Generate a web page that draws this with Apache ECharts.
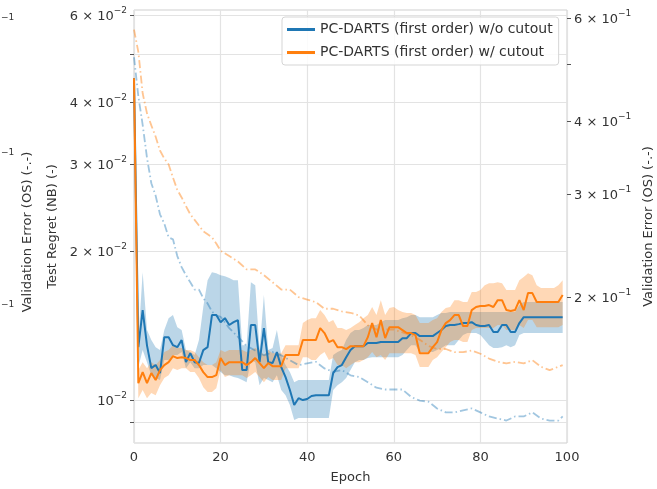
<!DOCTYPE html>
<html>
<head>
<meta charset="utf-8">
<script src="https://cdn.jsdelivr.net/npm/echarts@6/dist/echarts.min.js"></script>
<style>
  html, body { margin: 0; padding: 0; background: #fff; }
  #chart { width: 657px; height: 489px; }
</style>
</head>
<body>
<div id="chart"></div>
<script>
// test regret (NB), one value per epoch 0..99
var regretNoCutout = [
    0.0447, 0.01279, 0.0152, 0.0129, 0.0116, 0.01177, 0.01134, 0.0134, 0.0134, 0.01291,
    0.01279, 0.01322, 0.01193, 0.01244, 0.01193, 0.01188, 0.01262, 0.01279, 0.01485, 0.01485,
    0.01437, 0.01464, 0.01418, 0.01437, 0.01451, 0.0115, 0.0115, 0.01418, 0.01418, 0.01193,
    0.01398, 0.01193, 0.01188, 0.0125, 0.01166, 0.01113, 0.01048, 0.00977, 0.01009, 0.01,
    0.01005, 0.01019, 0.01023, 0.01023, 0.01023, 0.01023, 0.01134, 0.01166, 0.01177, 0.01221,
    0.01262, 0.01285, 0.01285, 0.01285, 0.01304, 0.01304, 0.01304, 0.0131, 0.0131, 0.0131,
    0.0131, 0.0131, 0.01334, 0.01334, 0.01366, 0.01366, 0.01347, 0.01347, 0.01347, 0.01347,
    0.01366, 0.01385, 0.01411, 0.01418, 0.01418, 0.01424, 0.01431, 0.01431, 0.01437, 0.01418,
    0.01411, 0.01411, 0.01418, 0.01372, 0.01372, 0.01418, 0.01418, 0.01372, 0.01372, 0.01431,
    0.01471, 0.01471, 0.01471, 0.01471, 0.01471, 0.01471, 0.01471, 0.01471, 0.01471, 0.01471
];
var regretNoCutoutHi = [
    0.046, 0.0132, 0.01813, 0.01385, 0.01322, 0.01279, 0.01262, 0.01385, 0.01464, 0.01485,
    0.01404, 0.01385, 0.01262, 0.0125, 0.01233, 0.01322, 0.01542, 0.01747, 0.01813, 0.01805,
    0.01788, 0.0178, 0.01764, 0.01747, 0.01747, 0.01291, 0.01291, 0.01731, 0.01707, 0.01262,
    0.0163, 0.01262, 0.01274, 0.01385, 0.01233, 0.01177, 0.01139, 0.01087, 0.01098, 0.01098,
    0.01098, 0.01098, 0.01098, 0.01098, 0.01098, 0.01098, 0.01233, 0.0125, 0.01262, 0.01322,
    0.01366, 0.01385, 0.01385, 0.01398, 0.01418, 0.01418, 0.01418, 0.01437, 0.01451, 0.01451,
    0.01451, 0.01451, 0.01464, 0.01471, 0.01485, 0.01485, 0.01471, 0.01471, 0.01471, 0.01471,
    0.01485, 0.01499, 0.01499, 0.01506, 0.01506, 0.01506, 0.01506, 0.01506, 0.01506, 0.01506,
    0.01506, 0.01506, 0.01506, 0.01506, 0.01506, 0.01506, 0.01506, 0.01506, 0.01506, 0.01556,
    0.01578, 0.01578, 0.01578, 0.01578, 0.01578, 0.01578, 0.01578, 0.01578, 0.01578, 0.01578
];
var regretNoCutoutLo = [
    0.043, 0.01166, 0.01262, 0.01193, 0.01123, 0.01108, 0.01098, 0.01205, 0.01205, 0.01233,
    0.01233, 0.0125, 0.0116, 0.01193, 0.0116, 0.0116, 0.01177, 0.01177, 0.01177, 0.0116,
    0.01139, 0.01123, 0.01123, 0.01113, 0.01108, 0.01098, 0.01087, 0.01205, 0.01193, 0.01072,
    0.01108, 0.01098, 0.01087, 0.01123, 0.01048, 0.01023, 0.00977, 0.00911, 0.0092, 0.0092,
    0.0092, 0.0092, 0.0092, 0.0092, 0.0092, 0.0092, 0.01048, 0.01072, 0.01087, 0.01108,
    0.0115, 0.01193, 0.01205, 0.01205, 0.01216, 0.01221, 0.01221, 0.01221, 0.01221, 0.01221,
    0.01221, 0.01221, 0.01233, 0.01262, 0.01291, 0.01291, 0.0125, 0.0125, 0.0125, 0.0125,
    0.01262, 0.01274, 0.01291, 0.01291, 0.01291, 0.01322, 0.01353, 0.01366, 0.01366, 0.01366,
    0.01353, 0.01322, 0.01291, 0.01274, 0.01274, 0.01279, 0.01291, 0.01279, 0.01291, 0.01353,
    0.01366, 0.01366, 0.01366, 0.01366, 0.01366, 0.01366, 0.01366, 0.01366, 0.01366, 0.01366
];
var regretCutout = [
    0.0447, 0.01082, 0.01139, 0.01082, 0.01134, 0.01098, 0.0115, 0.01177, 0.01193, 0.01227,
    0.01216, 0.01221, 0.01216, 0.01205, 0.01205, 0.01177, 0.01139, 0.01113, 0.01113, 0.01123,
    0.01216, 0.01177, 0.01193, 0.01193, 0.01193, 0.01193, 0.01177, 0.01193, 0.01216, 0.01188,
    0.0116, 0.01188, 0.01171, 0.01171, 0.01171, 0.01233, 0.01233, 0.01233, 0.01233, 0.01322,
    0.01322, 0.01322, 0.01322, 0.01398, 0.01366, 0.0131, 0.01322, 0.01279, 0.01279, 0.01268,
    0.01285, 0.01285, 0.01285, 0.01285, 0.0134, 0.01431, 0.0134, 0.01451, 0.01334, 0.01404,
    0.01404, 0.01404, 0.01385, 0.01366, 0.01366, 0.01353, 0.01244, 0.01244, 0.01244, 0.01279,
    0.0131, 0.01385, 0.01431, 0.01451, 0.01485, 0.01485, 0.01411, 0.01411, 0.0152, 0.01542,
    0.01549, 0.01549, 0.01556, 0.01542, 0.01592, 0.01592, 0.0152, 0.01513, 0.0152, 0.01592,
    0.0152, 0.01645, 0.01645, 0.01578, 0.01578, 0.01578, 0.01578, 0.01578, 0.01578, 0.0163
];
var regretCutoutHi = [
    0.04642, 0.0115, 0.01193, 0.0116, 0.01193, 0.01177, 0.01205, 0.0125, 0.01262, 0.01291,
    0.01274, 0.01274, 0.01262, 0.01262, 0.0125, 0.01221, 0.01193, 0.01177, 0.01177, 0.01193,
    0.01262, 0.0125, 0.01262, 0.01262, 0.01262, 0.01262, 0.0125, 0.01262, 0.01274, 0.01262,
    0.01233, 0.01262, 0.01244, 0.01244, 0.01244, 0.01291, 0.01291, 0.01291, 0.01291, 0.01431,
    0.01451, 0.01464, 0.01464, 0.0152, 0.01485, 0.01437, 0.01451, 0.01398, 0.01398, 0.01385,
    0.01398, 0.01418, 0.01437, 0.01464, 0.01485, 0.01542, 0.01485, 0.01592, 0.01485, 0.01534,
    0.01542, 0.0152, 0.01506, 0.01499, 0.01499, 0.01485, 0.01431, 0.01431, 0.01431, 0.01451,
    0.01464, 0.01506, 0.01534, 0.01542, 0.01592, 0.01592, 0.01578, 0.01578, 0.01653, 0.01653,
    0.01668, 0.01707, 0.01723, 0.01723, 0.01731, 0.01723, 0.01668, 0.01668, 0.01668, 0.01747,
    0.01772, 0.01805, 0.01788, 0.01707, 0.01684, 0.01684, 0.01684, 0.01684, 0.01707, 0.01747
];
var regretCutoutLo = [
    0.04329, 0.01009, 0.01048, 0.01009, 0.01033, 0.01023, 0.01072, 0.01108, 0.01123, 0.0116,
    0.0115, 0.0116, 0.0116, 0.01139, 0.01139, 0.01108, 0.01062, 0.01038, 0.01038, 0.01057,
    0.0115, 0.01113, 0.01123, 0.01123, 0.01123, 0.01123, 0.01108, 0.01123, 0.01139, 0.01113,
    0.01087, 0.01113, 0.01098, 0.01098, 0.01098, 0.0116, 0.0116, 0.0116, 0.0116, 0.01221,
    0.01221, 0.01205, 0.01205, 0.01233, 0.0125, 0.01205, 0.01216, 0.01177, 0.01177, 0.0116,
    0.01177, 0.01193, 0.01193, 0.01205, 0.01221, 0.0125, 0.01221, 0.01233, 0.01205, 0.01244,
    0.01244, 0.01244, 0.01244, 0.01244, 0.01244, 0.01233, 0.01166, 0.01166, 0.01166, 0.01205,
    0.01221, 0.0125, 0.01279, 0.0131, 0.01322, 0.01322, 0.0131, 0.0131, 0.01385, 0.01398,
    0.01398, 0.01398, 0.01398, 0.01398, 0.01418, 0.01418, 0.01385, 0.01385, 0.01385, 0.01418,
    0.01398, 0.01451, 0.01451, 0.01404, 0.01404, 0.01404, 0.01404, 0.01404, 0.01404, 0.01418
];

// validation error (OS), right axis
var valEpochs = [
    0, 1, 2, 3, 4, 5, 6, 7, 8, 9, 10, 11, 12, 13, 14, 15, 16, 17, 18, 19, 20,
    22, 24, 26, 28, 30, 32, 34, 36, 38, 40, 42, 44, 46, 48, 50, 52, 54, 56, 58,
    60, 62, 64, 66, 68, 70, 72, 74, 76, 78, 80, 82, 84, 86, 88, 90, 92, 94, 96, 98, 99
];
var valNoCutout = [
    0.514, 0.441, 0.394, 0.346, 0.313, 0.298, 0.277, 0.267, 0.253, 0.251, 0.235, 0.225, 0.218, 0.212, 0.206, 0.206, 0.199, 0.195, 0.189, 0.186, 0.185,
    0.177, 0.171, 0.165, 0.162, 0.159, 0.161, 0.159, 0.156, 0.153, 0.154, 0.155, 0.151, 0.149, 0.150, 0.147, 0.146, 0.143, 0.140, 0.139,
    0.139, 0.139, 0.135, 0.133, 0.1325, 0.129, 0.127, 0.127, 0.128, 0.129, 0.127, 0.125, 0.124, 0.123, 0.125, 0.125, 0.127, 0.124, 0.123, 0.123, 0.125
];
var valCutout = [
    0.573, 0.525, 0.446, 0.412, 0.393, 0.376, 0.356, 0.345, 0.337, 0.320, 0.305, 0.296, 0.286, 0.277, 0.271, 0.265, 0.259, 0.256, 0.253, 0.247, 0.240,
    0.235, 0.230, 0.223, 0.223, 0.218, 0.212, 0.206, 0.206, 0.200, 0.198, 0.196, 0.191, 0.191, 0.189, 0.188, 0.186, 0.179, 0.176, 0.176,
    0.176, 0.174, 0.172, 0.169, 0.165, 0.163, 0.163, 0.161, 0.161, 0.162, 0.160, 0.157, 0.155, 0.154, 0.155, 0.154, 0.156, 0.152, 0.150, 0.152, 0.153
];

// axis ticks (log scale, drawn on log10 values)
var regretTicks = [0.009, 0.01, 0.02, 0.03, 0.04, 0.05, 0.06];
var regretLabelValues = [0.01, 0.02, 0.03, 0.04, 0.06];
var regretLabels = ['10', '2 × 10', '3 × 10', '4 × 10', '6 × 10'];
var errTicks = [0.2, 0.3, 0.4, 0.5, 0.6];
var errLabelValues = [0.2, 0.3, 0.4, 0.6];
var errLabels = ['2 × 10', '3 × 10', '4 × 10', '6 × 10'];
var regretRange = [0.00819, 0.0614];
var errRange = [0.1126, 0.619];

var names = ['PC-DARTS (first order) w/o cutout', 'PC-DARTS (first order) w/ cutout'];
var blue = '#1f77b4', orange = '#ff7f0e';
var textColor = '#333';

var lg = Math.log10;

function perEpoch(arr) {
    return arr.map(function (v, i) { return [i, lg(v)]; });
}

// shaded band: one polygon, upper edge forward then lower edge back
function bandSeries(lo, hi, color) {
    return {
        type: 'custom',
        silent: true,
        clip: true,
        data: [[0, lg(lo[0])]],
        renderItem: function (params, api) {
            var pts = [];
            for (var i = 0; i < hi.length; i++) pts.push(api.coord([i, lg(hi[i])]));
            for (var j = lo.length - 1; j >= 0; j--) pts.push(api.coord([j, lg(lo[j])]));
            return { type: 'polygon', shape: { points: pts }, style: { fill: color } };
        }
    };
}

function labelFormatter(values, labels, exp) {
    return function (v) {
        for (var i = 0; i < values.length; i++) {
            if (Math.abs(lg(values[i]) - v) < 1e-6) {
                return '{b|' + labels[i] + '}{s|' + exp + '}';
            }
        }
        return '';
    };
}

var rich = {
    b: { fontSize: 13, color: textColor, fontFamily: 'DejaVu Sans', lineHeight: 17, verticalAlign: 'bottom' },
    s: { fontSize: 9, color: textColor, fontFamily: 'DejaVu Sans', lineHeight: 10, verticalAlign: 'top' }
};

var chart = echarts.init(document.getElementById('chart'));

var series = [
    bandSeries(regretNoCutoutLo, regretNoCutoutHi, 'rgba(31,119,180,0.3)'),
    bandSeries(regretCutoutLo, regretCutoutHi, 'rgba(255,127,14,0.3)'),
    {
        name: names[0], type: 'line', symbol: 'none', color: blue,
        lineStyle: { width: 2, color: blue },
        data: perEpoch(regretNoCutout)
    }, {
        name: names[1], type: 'line', symbol: 'none', color: orange,
        lineStyle: { width: 2, color: orange },
        data: perEpoch(regretCutout)
    }, {
        type: 'line', yAxisIndex: 1, symbol: 'none', silent: true,
        lineStyle: { width: 1.8, color: 'rgba(31,119,180,0.42)', type: [8, 3, 1.5, 3] },
        data: valNoCutout.map(function (v, i) { return [valEpochs[i], lg(v)]; })
    }, {
        type: 'line', yAxisIndex: 1, symbol: 'none', silent: true,
        lineStyle: { width: 1.8, color: 'rgba(255,127,14,0.45)', type: [8, 3, 1.5, 3] },
        data: valCutout.map(function (v, i) { return [valEpochs[i], lg(v)]; })
    }
];

var option = {
    animation: false,
    textStyle: { fontFamily: 'DejaVu Sans' },
    grid: {
        left: 134, right: 90, top: 10, bottom: 46,
        outerBoundsMode: 'none',
        show: true, borderColor: '#cfcfcf', borderWidth: 1
    },
    legend: {
        data: names,
        orient: 'vertical',
        left: 282,
        top: 17,
        icon: 'rect',
        itemWidth: 28,
        itemHeight: 3,
        itemGap: 6,
        itemTextGap: 10,
        padding: [4, 6, 4, 5],
        backgroundColor: 'rgba(255,255,255,0.85)',
        borderColor: '#d5d5d5',
        borderWidth: 1,
        borderRadius: 3,
        textStyle: { fontSize: 14, fontWeight: 'normal', color: textColor, lineHeight: 17 }
    },
    xAxis: {
        type: 'value',
        min: 0,
        max: 100,
        interval: 20,
        name: 'Epoch',
        nameLocation: 'middle',
        nameGap: 28,
        nameTextStyle: { fontSize: 13, color: textColor },
        axisLine: { show: false },
        axisTick: { show: false },
        axisLabel: { fontSize: 13, color: textColor, margin: 8 },
        splitLine: { show: true, lineStyle: { color: '#e3e3e3', width: 1.2 } }
    },
    yAxis: [{
        type: 'value',
        position: 'left',
        min: lg(regretRange[0]),
        max: lg(regretRange[1]),
        name: 'Test Regret (NB) (-)',
        nameLocation: 'middle',
        nameGap: 64,
        nameRotate: 90,
        nameTextStyle: { fontSize: 13, color: textColor },
        axisLine: { show: false },
        axisTick: {
            show: true, length: 4,
            customValues: regretTicks.map(lg),
            lineStyle: { color: '#555' }
        },
        axisLabel: {
            margin: 7,
            customValues: regretLabelValues.map(lg),
            formatter: labelFormatter(regretLabelValues, regretLabels, '−2'),
            rich: rich
        },
        splitLine: { show: true, lineStyle: { color: '#e3e3e3', width: 1.2 } }
    }, {
        type: 'value',
        position: 'right',
        min: lg(errRange[0]),
        max: lg(errRange[1]),
        name: 'Validation Error (OS) (-.-)',
        nameLocation: 'middle',
        nameGap: 63,
        nameRotate: 90,
        nameTextStyle: { fontSize: 13, color: textColor },
        axisLine: { show: false },
        axisTick: {
            show: true, length: 4,
            customValues: errTicks.map(lg),
            lineStyle: { color: '#555' }
        },
        axisLabel: {
            margin: 7,
            customValues: errLabelValues.map(lg),
            formatter: labelFormatter(errLabelValues, errLabels, '−1'),
            rich: rich
        },
        splitLine: { show: false }
    }],
    graphic: [
        { type: 'text', x: 1, y: 18, style: { text: '−1', fontSize: 9, fill: textColor, fontFamily: 'DejaVu Sans', verticalAlign: 'middle' } },
        { type: 'text', x: 1, y: 153, style: { text: '−1', fontSize: 9, fill: textColor, fontFamily: 'DejaVu Sans', verticalAlign: 'middle' } },
        { type: 'text', x: 1, y: 305, style: { text: '−1', fontSize: 9, fill: textColor, fontFamily: 'DejaVu Sans', verticalAlign: 'middle' } },
        {
            type: 'text', x: 28, y: 232, rotation: Math.PI / 2,
            style: { text: 'Validation Error (OS) (-.-)', fontSize: 13, fill: textColor, fontFamily: 'DejaVu Sans', align: 'center', verticalAlign: 'middle' }
        }
    ],
    series: series
};

chart.setOption(option);
</script>
</body>
</html>
